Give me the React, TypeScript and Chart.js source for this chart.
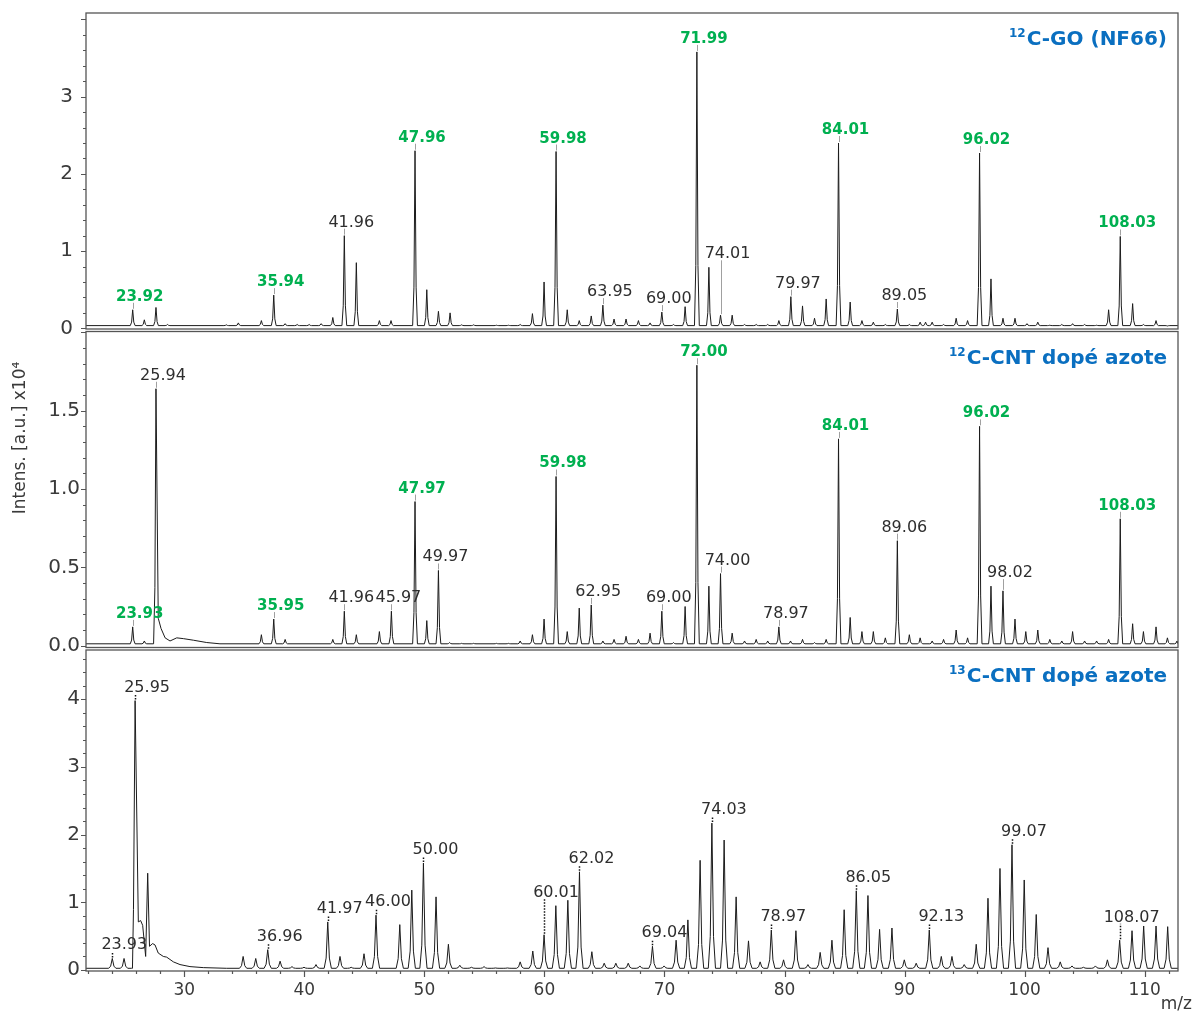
import { useEffect, useRef } from "react";
import { Chart, registerables } from "chart.js";

Chart.register(...registerables);

// ---------- data (m/z positions as read on the shared axis, intensities in x10^4) ----------
const X_MIN = 21.81;
const X_MAX = 112.78;
const xTickValues = [30, 40, 50, 60, 70, 80, 90, 100, 110];

const goTicks = [0, 1, 2, 3];
const cntTicks = [0, 0.5, 1.0, 1.5];
const c13Ticks = [0, 1, 2, 3, 4];

const goBaseline = 0.035;
const cntBaseline = 0.012;
const c13Baseline = 0.025;

const goPeaks: [number, number][] = [
  [25.7, 0.24], [26.67, 0.11], [27.64, 0.27], [28.6, 0.05], [33.5, 0.045], [34.5, 0.07],
  [36.42, 0.1], [37.45, 0.43], [38.4, 0.06], [39.4, 0.05], [40.4, 0.05], [41.4, 0.06],
  [42.37, 0.14], [43.33, 1.2], [44.33, 0.85], [46.25, 0.1], [47.22, 0.1], [49.22, 2.3],
  [50.2, 0.5], [51.17, 0.22], [52.14, 0.2], [53.1, 0.045], [54.1, 0.045], [56.0, 0.04],
  [57.0, 0.04], [57.98, 0.05], [59.0, 0.19], [59.97, 0.6], [60.97, 2.29], [61.9, 0.24],
  [62.9, 0.1], [63.9, 0.16], [64.87, 0.3], [65.8, 0.12], [66.8, 0.12], [67.83, 0.1],
  [68.8, 0.07], [69.78, 0.21], [70.75, 0.05], [71.72, 0.28], [72.7, 3.58], [73.7, 0.79],
  [74.67, 0.17], [75.64, 0.17], [76.67, 0.05], [77.64, 0.05], [78.6, 0.05], [79.53, 0.1],
  [80.53, 0.41], [81.5, 0.29], [82.5, 0.13], [83.47, 0.38], [84.5, 2.4], [85.47, 0.34],
  [86.45, 0.1], [87.4, 0.08], [88.4, 0.05], [89.4, 0.25], [90.4, 0.05], [91.3, 0.08],
  [91.75, 0.08], [92.3, 0.08], [93.25, 0.05], [94.3, 0.13], [95.25, 0.1], [96.25, 2.27],
  [97.2, 0.64], [98.2, 0.13], [99.2, 0.13], [100.2, 0.06], [101.1, 0.08], [102.1, 0.04],
  [103.1, 0.05], [104.0, 0.06], [105.0, 0.05], [106.0, 0.04], [107.0, 0.24], [107.97, 1.19],
  [109.0, 0.32], [109.9, 0.05], [110.95, 0.1], [111.9, 0.03],
];

const cntPeaks: [number, number][] = [
  [25.7, 0.12], [26.67, 0.03], [27.64, 1.64], [36.42, 0.07], [37.45, 0.17], [38.4, 0.04],
  [42.37, 0.04], [43.33, 0.22], [44.33, 0.07], [46.25, 0.09], [47.25, 0.22], [49.22, 0.92],
  [50.2, 0.16], [51.17, 0.48], [52.1, 0.02], [53.1, 0.015], [54.1, 0.015], [56.0, 0.015],
  [57.0, 0.015], [57.98, 0.03], [59.0, 0.07], [59.97, 0.17], [60.97, 1.08], [61.9, 0.09],
  [62.9, 0.24], [63.9, 0.26], [64.87, 0.03], [65.8, 0.04], [66.8, 0.06], [67.83, 0.04],
  [68.8, 0.08], [69.78, 0.22], [70.75, 0.02], [71.72, 0.25], [72.7, 1.79], [73.7, 0.38],
  [74.67, 0.46], [75.64, 0.08], [76.67, 0.03], [77.64, 0.04], [78.6, 0.03], [79.53, 0.12],
  [80.5, 0.03], [81.5, 0.04], [82.5, 0.02], [83.47, 0.04], [84.5, 1.32], [85.47, 0.18],
  [86.45, 0.09], [87.4, 0.09], [88.4, 0.05], [89.4, 0.67], [90.4, 0.07], [91.3, 0.05],
  [92.3, 0.03], [93.25, 0.04], [94.3, 0.1], [95.25, 0.05], [96.25, 1.4], [97.2, 0.38],
  [98.2, 0.35], [99.2, 0.17], [100.1, 0.09], [101.1, 0.1], [102.1, 0.04], [103.1, 0.03],
  [104.0, 0.09], [105.0, 0.03], [106.0, 0.03], [107.0, 0.04], [107.97, 0.81], [109.0, 0.14],
  [109.9, 0.09], [110.95, 0.12], [111.9, 0.05], [112.7, 0.03],
];

const c13Peaks: [number, number][] = [
  [24.0, 0.17], [24.98, 0.17], [25.9, 3.98], [26.95, 1.43], [34.9, 0.2], [35.95, 0.17],
  [36.95, 0.3], [37.98, 0.13], [38.97, 0.05], [39.97, 0.04], [40.97, 0.08], [41.95, 0.71],
  [42.97, 0.2], [43.9, 0.04], [44.97, 0.24], [45.97, 0.81], [47.95, 0.67], [48.95, 1.18],
  [49.92, 1.58], [50.97, 1.08], [52.0, 0.38], [52.95, 0.07], [53.92, 0.04], [54.97, 0.05],
  [55.92, 0.03], [56.92, 0.03], [57.98, 0.12], [59.03, 0.28], [59.97, 0.52], [60.95, 0.95],
  [61.95, 1.03], [62.92, 1.45], [63.95, 0.27], [64.98, 0.1], [65.95, 0.1], [66.98, 0.1],
  [67.95, 0.06], [69.0, 0.35], [69.97, 0.06], [70.97, 0.44], [71.95, 0.74], [72.97, 1.62],
  [73.95, 2.17], [74.97, 1.92], [75.97, 1.08], [77.0, 0.43], [77.97, 0.12], [78.9, 0.59],
  [79.92, 0.15], [80.95, 0.58], [81.95, 0.08], [82.97, 0.26], [83.95, 0.44], [84.97, 0.89],
  [85.98, 1.17], [86.95, 1.1], [87.92, 0.6], [88.95, 0.62], [89.98, 0.15], [90.97, 0.1],
  [92.06, 0.59], [93.06, 0.2], [93.95, 0.2], [94.97, 0.08], [95.97, 0.38], [96.95, 1.06],
  [97.95, 1.5], [98.95, 1.85], [99.97, 1.33], [100.97, 0.82], [101.95, 0.33], [102.97, 0.12],
  [103.95, 0.06], [104.9, 0.04], [105.9, 0.06], [106.9, 0.15], [107.92, 0.44], [108.95, 0.58],
  [109.92, 0.65], [110.95, 0.65], [111.92, 0.64],
];

const goBackground: [number, number][] = [];
const cntBackground: [number, number][] = [
  [27.45, 0.012], [27.83, 0.175], [28.06, 0.11], [28.4, 0.05], [28.81, 0.03], [29.37, 0.05],
  [29.92, 0.045], [30.75, 0.035], [31.87, 0.02], [32.97, 0.012],
];
const c13Background: [number, number][] = [
  [25.68, 0.025], [26.17, 0.71], [26.36, 0.73], [26.53, 0.66], [26.78, 0.2], [27.1, 0.35],
  [27.36, 0.39], [27.56, 0.37], [27.83, 0.25], [28.25, 0.2], [28.53, 0.19], [29.09, 0.12],
  [29.64, 0.08], [30.47, 0.05], [31.58, 0.035], [33.5, 0.025],
];

type PeakLabel = { mz: number; text: string; green?: boolean };

const goLabels: PeakLabel[] = [
  { mz: 25.7, text: "23.92", green: true },
  { mz: 37.45, text: "35.94", green: true },
  { mz: 43.33, text: "41.96" },
  { mz: 49.22, text: "47.96", green: true },
  { mz: 60.97, text: "59.98", green: true },
  { mz: 64.87, text: "63.95" },
  { mz: 69.78, text: "69.00" },
  { mz: 72.7, text: "71.99", green: true },
  { mz: 74.67, text: "74.01" },
  { mz: 80.53, text: "79.97" },
  { mz: 84.5, text: "84.01", green: true },
  { mz: 89.4, text: "89.05" },
  { mz: 96.25, text: "96.02", green: true },
  { mz: 107.97, text: "108.03", green: true },
];

const cntLabels: PeakLabel[] = [
  { mz: 25.7, text: "23.93", green: true },
  { mz: 27.64, text: "25.94" },
  { mz: 37.45, text: "35.95", green: true },
  { mz: 43.33, text: "41.96" },
  { mz: 47.25, text: "45.97" },
  { mz: 49.22, text: "47.97", green: true },
  { mz: 51.17, text: "49.97" },
  { mz: 60.97, text: "59.98", green: true },
  { mz: 63.9, text: "62.95" },
  { mz: 69.78, text: "69.00" },
  { mz: 72.7, text: "72.00", green: true },
  { mz: 74.67, text: "74.00" },
  { mz: 79.53, text: "78.97" },
  { mz: 84.5, text: "84.01", green: true },
  { mz: 89.4, text: "89.06" },
  { mz: 96.25, text: "96.02", green: true },
  { mz: 98.2, text: "98.02" },
  { mz: 107.97, text: "108.03", green: true },
];

const c13Labels: PeakLabel[] = [
  { mz: 24.0, text: "23.93" },
  { mz: 25.9, text: "25.95" },
  { mz: 36.95, text: "36.96" },
  { mz: 41.95, text: "41.97" },
  { mz: 45.97, text: "46.00" },
  { mz: 49.92, text: "50.00" },
  { mz: 59.97, text: "60.01" },
  { mz: 62.92, text: "62.02" },
  { mz: 69.0, text: "69.04" },
  { mz: 73.95, text: "74.03" },
  { mz: 78.9, text: "78.97" },
  { mz: 85.98, text: "86.05" },
  { mz: 92.06, text: "92.13" },
  { mz: 98.95, text: "99.07" },
  { mz: 107.92, text: "108.07" },
];

const goTitle = { sup: "12", text: "C-GO (NF66)" };
const cntTitle = { sup: "12", text: "C-CNT dopé azote" };
const c13Title = { sup: "13", text: "C-CNT dopé azote" };
const yTitle = "Intens. [a.u.] x10⁴";
const xTitle = "m/z";

// ---------- build traces (each peak drawn as a narrow spike with a wider foot) ----------
function buildTrace(
  peaks: [number, number][],
  baseline: number,
  background: [number, number][],
  w: number
) {
  const bgMin = background.length ? background[0][0] : Infinity;
  const bgMax = background.length ? background[background.length - 1][0] : -Infinity;
  const inBg = (x: number) => x >= bgMin && x <= bgMax;
  const pts: { x: number; y: number }[] = [
    { x: X_MIN, y: baseline },
    { x: X_MAX, y: baseline },
  ];
  for (const [x, y] of background) pts.push({ x, y });
  for (const [x, h] of peaks) {
    const shoulder = baseline + (h - baseline) * 0.22;
    if (!inBg(x - w)) {
      pts.push({ x: x - w, y: baseline });
      pts.push({ x: x - w * 0.45, y: shoulder });
    }
    pts.push({ x, y: h });
    if (!inBg(x + w)) {
      pts.push({ x: x + w * 0.45, y: shoulder });
      pts.push({ x: x + w, y: baseline });
    }
  }
  pts.sort((a, b) => a.x - b.x);
  return pts;
}

const FONT = "'DejaVu Sans', 'Liberation Sans', sans-serif";
const GREEN = "#00b050";
const BLUE = "#0a6fc0";
const TEXT = "#3a3a3a";
const AXIS = "#555555";

type Panel = {
  axis: string;
  peaks: [number, number][];
  labels: PeakLabel[];
  title: { sup: string; text: string };
  major: number;
  minor: number;
  labelDx: number;
  dotted: boolean;
};

const panels: Panel[] = [
  { axis: "yGO", peaks: goPeaks, labels: goLabels, title: goTitle, major: 1, minor: 0.2, labelDx: 7, dotted: false },
  { axis: "yCNT", peaks: cntPeaks, labels: cntLabels, title: cntTitle, major: 0.5, minor: 0.1, labelDx: 7, dotted: false },
  { axis: "yC13", peaks: c13Peaks, labels: c13Labels, title: c13Title, major: 1, minor: 0.2, labelDx: 12, dotted: true },
];

const overlayPlugin = {
  id: "overlay",
  afterDraw(chart: any) {
    const ctx: CanvasRenderingContext2D = chart.ctx;
    const xs = chart.scales.x;
    const area = chart.chartArea;
    ctx.save();

    panels.forEach((p, i) => {
      const ys = chart.scales[p.axis];
      const top = ys.top + (i > 0 ? 1.5 : 0);
      const bottom = ys.bottom - (i < panels.length - 1 ? 1 : 0);

      // frame
      ctx.strokeStyle = AXIS;
      ctx.lineWidth = 1.3;
      ctx.setLineDash([]);
      ctx.strokeRect(area.left, top, area.right - area.left, bottom - top);

      // y ticks
      ctx.lineWidth = 1;
      const n = Math.floor((ys.max + 1e-9) / p.minor);
      for (let k = 0; k <= n; k++) {
        const v = k * p.minor;
        const r = v / p.major;
        const isMajor = Math.abs(r - Math.round(r)) < 1e-6;
        const py = Math.round(ys.getPixelForValue(v)) + 0.5;
        if (py < top) continue;
        ctx.beginPath();
        ctx.moveTo(area.left - (isMajor ? 5 : 3), py);
        ctx.lineTo(area.left, py);
        ctx.stroke();
      }

      // peak labels
      for (const lab of p.labels) {
        const px = xs.getPixelForValue(lab.mz);
        const own = p.peaks.find((pk) => Math.abs(pk[0] - lab.mz) < 1e-6);
        const ownTop = ys.getPixelForValue(own ? own[1] : 0);
        let minTop = ownTop;
        for (const [mz, h] of p.peaks) {
          if (Math.abs(mz - lab.mz) <= 1.1) minTop = Math.min(minTop, ys.getPixelForValue(h));
        }
        const base = minTop - 9;
        if (ownTop - base > 4) {
          ctx.beginPath();
          if (p.dotted) {
            ctx.setLineDash([1.5, 1.5]);
            ctx.strokeStyle = "#111";
            ctx.lineWidth = 1.5;
          } else {
            ctx.setLineDash([]);
            ctx.strokeStyle = "#a0a0a0";
            ctx.lineWidth = 1;
          }
          ctx.moveTo(Math.round(px) + 0.5, ownTop - 1);
          ctx.lineTo(Math.round(px) + 0.5, base + 2);
          ctx.stroke();
          ctx.setLineDash([]);
        }
        ctx.font = lab.green ? `bold 15px ${FONT}` : `16px ${FONT}`;
        ctx.fillStyle = lab.green ? GREEN : "#2e2e2e";
        ctx.textAlign = "center";
        ctx.textBaseline = "alphabetic";
        ctx.fillText(lab.text, px + p.labelDx, base);
      }

      // title
      const right = 1167;
      const midY = top + 27;
      ctx.fillStyle = BLUE;
      ctx.font = `bold 20px ${FONT}`;
      ctx.textAlign = "right";
      ctx.textBaseline = "middle";
      const mainW = ctx.measureText(p.title.text).width;
      ctx.fillText(p.title.text, right, midY);
      ctx.font = `bold 12px ${FONT}`;
      ctx.fillText(p.title.sup, right - mainW - 1, midY - 6);
    });

    // x ticks (bottom)
    ctx.strokeStyle = AXIS;
    ctx.lineWidth = 1.2;
    ctx.setLineDash([]);
    for (let v = 22; v <= X_MAX; v += 2) {
      const px = Math.round(xs.getPixelForValue(v)) + 0.5;
      const isMajor = v % 10 === 0;
      ctx.beginPath();
      ctx.moveTo(px, area.bottom);
      ctx.lineTo(px, area.bottom + (isMajor ? 6 : 3));
      ctx.stroke();
    }

    // axis titles
    ctx.fillStyle = TEXT;
    ctx.font = `17px ${FONT}`;
    ctx.textAlign = "right";
    ctx.textBaseline = "middle";
    ctx.fillText(xTitle, 1192, 1005);

    ctx.save();
    ctx.translate(21, 438);
    ctx.rotate(-Math.PI / 2);
    ctx.textAlign = "center";
    ctx.textBaseline = "middle";
    ctx.fillText(yTitle, 0, 0);
    ctx.restore();

    ctx.restore();
  },
};

function zeroPadding(s: any) {
  s.paddingTop = 0;
  s.paddingBottom = 0;
  s.paddingLeft = 0;
  s.paddingRight = 0;
}

function yAxis(
  weight: number,
  min: number,
  max: number,
  ticks: number[],
  padding: number,
  fmt: (v: number) => string
) {
  return {
    type: "linear" as const,
    position: "left" as const,
    stack: "spectra",
    stackWeight: weight,
    min,
    max,
    grid: { display: false, drawTicks: false },
    border: { display: false },
    afterBuildTicks: (s: any) => {
      s.ticks = ticks.map((v) => ({ value: v }));
    },
    afterFit: (s: any) => {
      s.width = 86;
      zeroPadding(s);
    },
    ticks: {
      padding,
      color: TEXT,
      font: { family: FONT, size: 20 },
      callback: (v: any) => fmt(Number(v)),
    },
  };
}

export default function App() {
  const ref = useRef<HTMLCanvasElement | null>(null);

  useEffect(() => {
    if (!ref.current) return;
    const goTrace = buildTrace(goPeaks, goBaseline, goBackground, 0.2);
    const cntTrace = buildTrace(cntPeaks, cntBaseline, cntBackground, 0.2);
    const c13Trace = buildTrace(c13Peaks, c13Baseline, c13Background, 0.3);

    const ds = (data: any[], yAxisID: string) => ({
      data,
      yAxisID,
      xAxisID: "x",
      borderColor: "#1c1c1c",
      borderWidth: 1,
      pointRadius: 0,
      tension: 0,
      fill: false,
    });

    const chart = new Chart(ref.current, {
      type: "line",
      data: {
        datasets: [ds(goTrace, "yGO"), ds(cntTrace, "yCNT"), ds(c13Trace, "yC13")],
      },
      options: {
        animation: false,
        responsive: false,
        maintainAspectRatio: false,
        plugins: { legend: { display: false }, tooltip: { enabled: false } },
        layout: { padding: { top: 13, right: 18, left: 0, bottom: 0 } },
        scales: {
          x: {
            type: "linear",
            position: "bottom",
            min: X_MIN,
            max: X_MAX,
            grid: { display: false, drawTicks: false },
            border: { display: false },
            afterBuildTicks: (s: any) => {
              s.ticks = xTickValues.map((v) => ({ value: v }));
            },
            afterFit: (s: any) => {
              s.height = 43;
              zeroPadding(s);
            },
            ticks: {
              padding: 9,
              color: TEXT,
              maxRotation: 0,
              autoSkip: false,
              font: { family: FONT, size: 17 },
              callback: (v: any) => String(v),
            },
          },
          yC13: yAxis(322.5, -0.015, 4.75, c13Ticks, 6, (v) => String(v)),
          yCNT: yAxis(318.5, -0.018, 2.015, cntTicks, 6, (v) => v.toFixed(1)),
          yGO: yAxis(317, -0.022, 4.084, goTicks, 13, (v) => String(v)),
        } as any,
      },
      plugins: [overlayPlugin],
    });
    return () => chart.destroy();
  }, []);

  return (
    <div style={{ position: "absolute", left: 0, top: 0, width: 1196, height: 1014, background: "#fff" }}>
      <canvas ref={ref} width={1196} height={1014} style={{ width: 1196, height: 1014 }} />
    </div>
  );
}
